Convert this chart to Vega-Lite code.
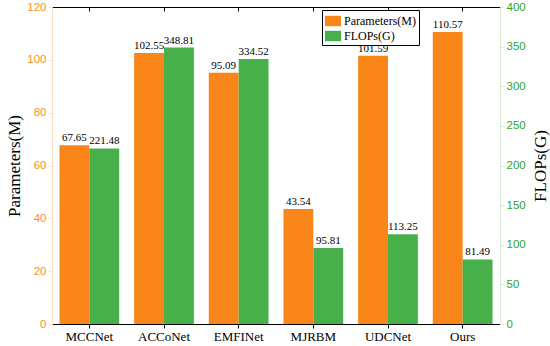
{
  "$schema": "https://vega.github.io/schema/vega-lite/v6.json",
  "width": 448,
  "height": 317,
  "autosize": {"type": "none"},
  "padding": {"left": 52, "top": 7, "right": 50, "bottom": 22},
  "config": {"view": {"stroke": null}, "axis": {"grid": false}},
  "data": {
    "values": [
      {"model": "MCCNet", "metric": "Parameters(M)", "value": 67.65},
      {"model": "MCCNet", "metric": "FLOPs(G)", "value": 221.48},
      {"model": "ACCoNet", "metric": "Parameters(M)", "value": 102.55},
      {"model": "ACCoNet", "metric": "FLOPs(G)", "value": 348.81},
      {"model": "EMFINet", "metric": "Parameters(M)", "value": 95.09},
      {"model": "EMFINet", "metric": "FLOPs(G)", "value": 334.52},
      {"model": "MJRBM", "metric": "Parameters(M)", "value": 43.54},
      {"model": "MJRBM", "metric": "FLOPs(G)", "value": 95.81},
      {"model": "UDCNet", "metric": "Parameters(M)", "value": 101.59},
      {"model": "UDCNet", "metric": "FLOPs(G)", "value": 113.25},
      {"model": "Ours", "metric": "Parameters(M)", "value": 110.57},
      {"model": "Ours", "metric": "FLOPs(G)", "value": 81.49}
    ]
  },
  "layer": [
    {
      "transform": [{"filter": "datum.metric === 'Parameters(M)'"}],
      "encoding": {
        "x": {"field": "model", "type": "nominal", "sort": null,
          "scale": {"paddingInner": 0.2, "paddingOuter": 0.1},
          "axis": {"orient": "bottom", "title": null, "labelAngle": 0, "labelFont": "Liberation Serif", "labelFontSize": 13, "labelColor": "#000000", "domainColor": "#000000", "tickColor": "#000000", "tickSize": 4, "labelPadding": 2}},
        "xOffset": {"field": "metric", "type": "nominal", "scale": {"domain": ["Parameters(M)", "FLOPs(G)"]}},
        "y": {"field": "value", "type": "quantitative", "scale": {"domain": [0, 120]},
          "axis": {"orient": "left", "values": [0, 20, 40, 60, 80, 100, 120], "title": "Parameters(M)", "titleFont": "Liberation Serif", "titleFontSize": 17, "titleFontWeight": "normal", "titleColor": "#000000", "titlePadding": 3, "labelFont": "Liberation Sans", "labelFontSize": 11.5, "labelColor": "#F7931E", "domainColor": "#FDE3C4", "tickColor": "#FDE3C4", "tickSize": 4}}
      },
      "layer": [
        {"mark": {"type": "bar"},
          "encoding": {"color": {"field": "metric", "type": "nominal",
            "scale": {"domain": ["Parameters(M)", "FLOPs(G)"], "range": ["#FA8518", "#48B04A"]},
            "legend": {"title": null, "orient": "none", "legendX": 270, "legendY": 3, "strokeColor": "#000000", "fillColor": "#ffffff", "padding": 3, "labelFont": "Liberation Serif", "labelFontSize": 12, "labelColor": "#000000", "symbolType": "M-1,-0.65H1V0.65H-1Z", "symbolSize": 256, "symbolStrokeWidth": 0, "symbolOpacity": 1, "rowPadding": 1, "labelOffset": 3}}}},
        {"mark": {"type": "text", "baseline": "bottom", "dy": -2, "font": "Liberation Serif", "fontSize": 11, "color": "#000000"},
          "encoding": {"text": {"field": "value", "type": "quantitative", "format": ".2f"}}}
      ]
    },
    {
      "transform": [{"filter": "datum.metric === 'FLOPs(G)'"}],
      "encoding": {
        "x": {"field": "model", "type": "nominal", "sort": null,
          "scale": {"paddingInner": 0.2, "paddingOuter": 0.1},
          "axis": {"orient": "top", "title": null, "labels": false, "domainColor": "#000000", "tickColor": "#000000", "tickSize": -4}},
        "xOffset": {"field": "metric", "type": "nominal", "scale": {"domain": ["Parameters(M)", "FLOPs(G)"]}},
        "y": {"field": "value", "type": "quantitative", "scale": {"domain": [0, 400]},
          "axis": {"orient": "right", "values": [0, 50, 100, 150, 200, 250, 300, 350, 400], "title": "FLOPs(G)", "titleAngle": 270, "titleBaseline": "top", "titleFont": "Liberation Serif", "titleFontSize": 17, "titleFontWeight": "normal", "titleColor": "#000000", "titlePadding": 7, "labelFont": "Liberation Sans", "labelFontSize": 11.5, "labelColor": "#2BA52B", "domainColor": "#D5EED5", "tickColor": "#D5EED5", "tickSize": 4}}
      },
      "layer": [
        {"mark": {"type": "bar"},
          "encoding": {"color": {"field": "metric", "type": "nominal",
            "scale": {"domain": ["Parameters(M)", "FLOPs(G)"], "range": ["#FA8518", "#48B04A"]}}}},
        {"mark": {"type": "text", "baseline": "bottom", "dy": -2, "font": "Liberation Serif", "fontSize": 11, "color": "#000000"},
          "encoding": {"text": {"field": "value", "type": "quantitative", "format": ".2f"}}}
      ]
    }
  ],
  "resolve": {"scale": {"y": "independent"}, "axis": {"x": "independent", "y": "independent"}}
}
